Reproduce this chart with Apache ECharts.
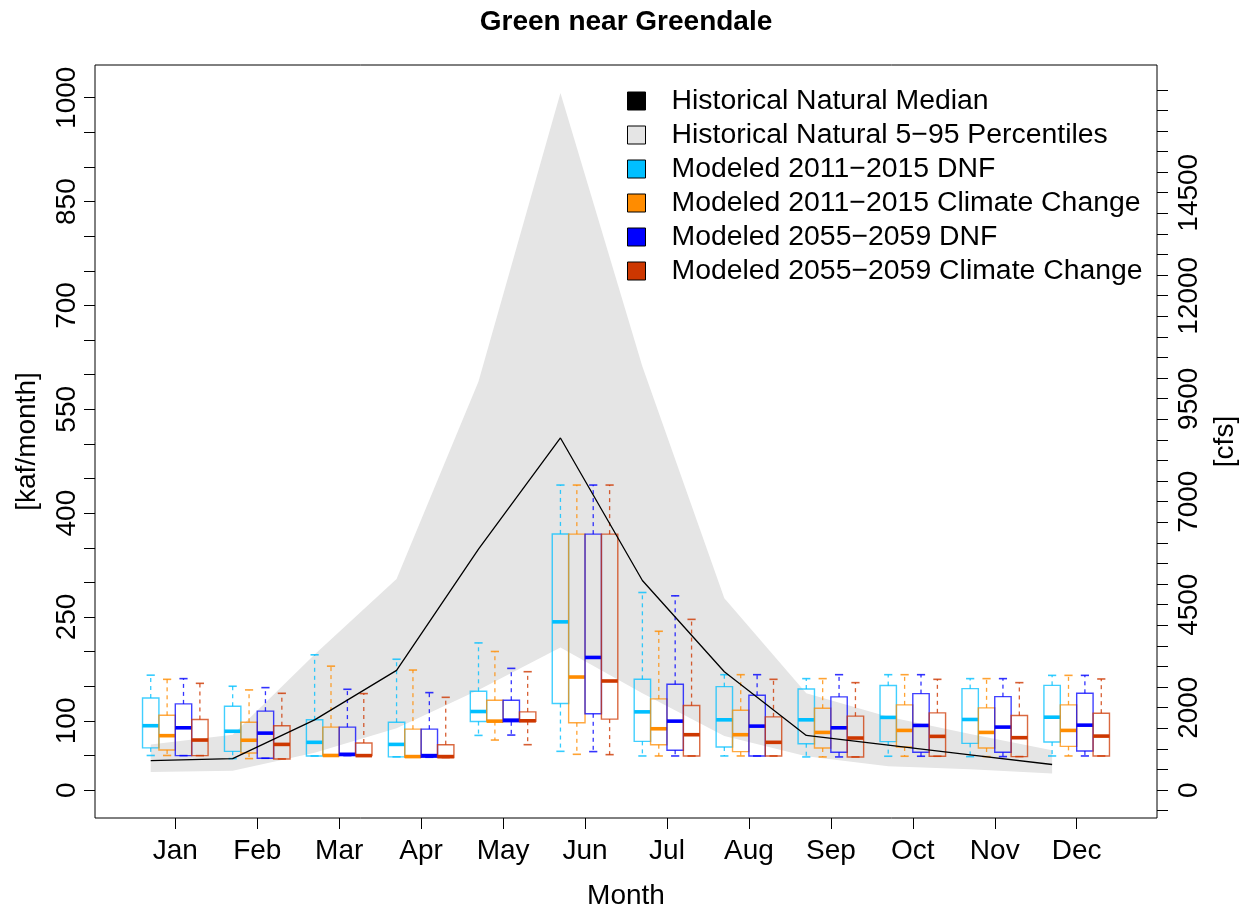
<!DOCTYPE html>
<html>
<head>
<meta charset="utf-8">
<title>Green near Greendale</title>
<script src="https://cdn.jsdelivr.net/npm/echarts@6/dist/echarts.min.js"></script>
<style>
  html, body { margin: 0; padding: 0; background: #fff; }
  #chart { width: 1247px; height: 915px; }
</style>
</head>
<body>
<div id="chart"></div>
<script>
// Monthly flow, Green River near Greendale [kaf/month]
const months = ['Jan', 'Feb', 'Mar', 'Apr', 'May', 'Jun', 'Jul', 'Aug', 'Sep', 'Oct', 'Nov', 'Dec'];

// Historical natural flow statistics
const histMedian = [42.5, 45.5, 101.5, 173, 348, 508.6, 302.7, 171, 79, 65, 51, 37];
const histP05 = [26, 28, 54, 89.5, 144.7, 206, 140, 78, 49, 34.5, 30, 24];
const histP95 = [66, 80, 196, 305, 590, 1007, 612, 277, 140, 106, 81, 57.5];

// Modeled boxes per month: [lower whisker, Q1, median, Q3, upper whisker]
const dnf2011 = [
  [50, 61, 93, 133, 166], [45.5, 56, 85, 121, 150], [49.3, 49.3, 69, 101.5, 195.4],
  [48, 48, 66, 98, 189], [79, 99, 113.5, 142.7, 212.6], [56, 125, 243, 370, 440.6],
  [49.3, 70.4, 113, 160, 285.4], [49.3, 62.3, 101.5, 149.4, 166.7], [47.9, 67, 101.5, 146, 161],
  [48.9, 70, 105, 151, 166.7], [48.4, 67.5, 102, 146.6, 161], [49.3, 69.4, 105.3, 151.3, 165.7]
];
const cc2011 = [
  [50, 58, 78.6, 108, 160], [45.5, 53.6, 72, 98, 144.7], [50, 50, 50, 91, 179],
  [47.5, 47.5, 48.4, 88, 173.4], [72.3, 99, 99.6, 129.8, 200.2], [51.7, 97.2, 163.3, 369.7, 440.6],
  [49.3, 65.6, 88.6, 131.7, 229.4], [49.3, 55.6, 80, 115.4, 166.7], [47.9, 60.8, 83.3, 118.3, 161],
  [48.9, 62.3, 86.2, 123.1, 166.7], [48.4, 60.8, 83.3, 118.8, 161], [49.3, 63.2, 86.2, 123.1, 165.7]
];
const dnf2055 = [
  [49.8, 49.8, 90, 124.5, 161], [46, 46, 82.3, 114, 148], [49.8, 49.8, 51.7, 91, 145.6],
  [47.4, 47.4, 49.8, 88, 140.8], [79.5, 98.6, 101, 129.8, 175.8], [55.6, 110.2, 191.6, 369.7, 440.6],
  [49.3, 57.5, 99.6, 152.8, 280.6], [49.3, 49.3, 92.4, 137, 166.7], [47.9, 54.6, 90, 134.6, 166.7],
  [48.9, 54.6, 93.4, 139.4, 166.7], [48.4, 54.6, 91, 135, 161], [49.3, 56.5, 93.8, 139.8, 165.7]
];
const cc2055 = [
  [49.8, 49.8, 72.3, 102, 154.2], [45, 45, 66, 93, 139.8], [49.8, 49.8, 49.8, 68, 139.4],
  [47, 47, 48.4, 65.6, 134], [65.6, 99.5, 100.1, 113, 171], [51.2, 102.5, 157.6, 369.7, 440.6],
  [49.3, 49.3, 80, 122.1, 246.6], [49.3, 49.3, 69, 105.8, 160], [47.9, 47.9, 75.2, 106.8, 155.2],
  [48.9, 48.9, 77.6, 111.6, 160], [48.4, 48.4, 75.7, 107.8, 155.2], [49.3, 49.3, 78, 111.1, 160.5]
];

// Axis ticks and labels
const kafTicks = Array.from({ length: 21 }, (_, i) => i * 50);
const kafLabels = [0, 100, 250, 400, 550, 700, 850, 1000];
const cfsTicks = Array.from({ length: 36 }, (_, i) => -500 + i * 500);
const cfsLabels = [0, 2000, 4500, 7000, 9500, 12000, 14500];

const CFS_PER_KAF = 16.806;      // 1 kaf/month over a 30-day month
const KAF_MIN = -40.3, KAF_MAX = 1047.3;
const HIST_OFFSET = -0.3;        // historical stats sit at the first box position
const BOX_OFFSETS = [-0.3, -0.1, 0.1, 0.3];
const BOX_W = 0.2;

const FONT = '"Liberation Sans", Arial, Helvetica, sans-serif';
const FS = 28;

const boxSeries = [
  { name: 'Modeled 2011\u22122015 DNF', color: '#00BFFF', data: dnf2011 },
  { name: 'Modeled 2011\u22122015 Climate Change', color: '#FF8C00', data: cc2011 },
  { name: 'Modeled 2055\u22122059 DNF', color: '#0000FF', data: dnf2055 },
  { name: 'Modeled 2055\u22122059 Climate Change', color: '#CD3700', data: cc2055 }
];

function boxRenderer(color) {
  return function (params, api) {
    const x = api.value(0);
    const lo = api.value(1), q1 = api.value(2), med = api.value(3), q3 = api.value(4), hi = api.value(5);
    const w = api.size([BOX_W, 0])[0];
    const cx = api.coord([x, med])[0];
    const yLo = api.coord([x, lo])[1];
    const yQ1 = api.coord([x, q1])[1];
    const yMed = api.coord([x, med])[1];
    const yQ3 = api.coord([x, q3])[1];
    const yHi = api.coord([x, hi])[1];
    const outline = { stroke: color, lineWidth: 1.4, opacity: 0.75, fill: null };
    const dashed = { stroke: color, lineWidth: 1.3, opacity: 0.8, lineDash: [4, 4] };
    const staple = { stroke: color, lineWidth: 1.6, opacity: 0.8 };
    return {
      type: 'group',
      children: [
        { type: 'line', shape: { x1: cx, y1: yQ3, x2: cx, y2: yHi }, style: dashed },
        { type: 'line', shape: { x1: cx, y1: yQ1, x2: cx, y2: yLo }, style: dashed },
        { type: 'line', shape: { x1: cx - w / 4, y1: yHi, x2: cx + w / 4, y2: yHi }, style: staple },
        { type: 'line', shape: { x1: cx - w / 4, y1: yLo, x2: cx + w / 4, y2: yLo }, style: staple },
        { type: 'rect', shape: { x: cx - w / 2, y: yQ3, width: w, height: yQ1 - yQ3 }, style: outline },
        { type: 'line', shape: { x1: cx - w / 2, y1: yMed, x2: cx + w / 2, y2: yMed },
          style: { stroke: color, lineWidth: 3.6 } }
      ]
    };
  };
}

const series = [
  {
    name: 'Historical Natural 5\u221295 Percentiles',
    type: 'custom',
    itemStyle: { color: '#E5E5E5' },
    encode: { x: 0, y: [1, 2] },
    data: months.map((m, i) => [i + 1 + HIST_OFFSET, histP05[i], histP95[i]]),
    renderItem: function (params, api) {
      if (params.dataIndex !== 0) return null;
      const upper = histP95.map((v, i) => api.coord([i + 1 + HIST_OFFSET, v]));
      const lower = histP05.map((v, i) => api.coord([i + 1 + HIST_OFFSET, v])).reverse();
      return { type: 'polygon', shape: { points: upper.concat(lower) }, style: { fill: '#E5E5E5' } };
    },
    silent: true, z: 1
  },
  {
    name: 'Historical Natural Median',
    type: 'line',
    data: histMedian.map((v, i) => [i + 1 + HIST_OFFSET, v]),
    symbol: 'none',
    itemStyle: { color: '#000' },
    lineStyle: { color: '#000', width: 1.3 },
    silent: true, z: 3
  }
].concat(boxSeries.map((s, k) => ({
  name: s.name,
  type: 'custom',
  itemStyle: { color: s.color },
  encode: { x: 0, y: [1, 2, 3, 4, 5] },
  data: s.data.map((b, i) => [i + 1 + BOX_OFFSETS[k]].concat(b)),
  renderItem: boxRenderer(s.color),
  silent: true, z: 2
})));

const legendNames = ['Historical Natural Median', 'Historical Natural 5\u221295 Percentiles'].concat(boxSeries.map(s => s.name));
const legendFill = ['#000000', '#E5E5E5'].concat(boxSeries.map(s => s.color));

const chart = echarts.init(document.getElementById('chart'), null, { renderer: 'canvas' });
chart.setOption({
  animation: false,
  backgroundColor: '#fff',
  textStyle: { fontFamily: FONT },
  title: {
    text: 'Green near Greendale',
    left: 626, top: 8, textAlign: 'center', padding: 0,
    textStyle: { fontFamily: FONT, fontSize: FS, fontWeight: 'bold', color: '#000' }
  },
  legend: {
    orient: 'vertical', left: 627, top: 87, padding: 0,
    itemWidth: 18, itemHeight: 18, itemGap: 6,
    selectedMode: false,
    textStyle: { fontFamily: FONT, fontSize: 28.4, color: '#000', lineHeight: 28, padding: [0, 0, 0, 21] },
    data: legendNames.map((n, i) => ({
      name: n, icon: 'rect',
      itemStyle: { color: legendFill[i], borderColor: '#000', borderWidth: 1 },
      lineStyle: { opacity: 0 }
    }))
  },
  grid: {
    left: 95, top: 65, width: 1062, height: 757,
    show: true, borderColor: '#000', borderWidth: 1, backgroundColor: 'transparent',
    containLabel: false
  },
  xAxis: {
    type: 'value', min: 0.02, max: 12.98,
    name: 'Month', nameLocation: 'middle', nameGap: 64,
    nameTextStyle: { fontFamily: FONT, fontSize: FS, color: '#000' },
    axisLine: { show: false, onZero: false },
    axisTick: { show: true, length: 11, lineStyle: { color: '#000', width: 1 }, customValues: months.map((m, i) => i + 1) },
    axisLabel: {
      show: true, margin: 19, color: '#000', fontFamily: FONT, fontSize: FS,
      customValues: months.map((m, i) => i + 1),
      formatter: v => months[Math.round(v) - 1]
    },
    splitLine: { show: false }
  },
  yAxis: [
    {
      type: 'value', position: 'left', min: KAF_MIN, max: KAF_MAX,
      name: '[kaf/month]', nameLocation: 'middle', nameGap: 54, nameRotate: 90,
      nameTextStyle: { fontFamily: FONT, fontSize: FS, color: '#000' },
      axisLine: { show: false, onZero: false },
      axisTick: { show: true, length: 11, lineStyle: { color: '#000', width: 1 }, customValues: kafTicks },
      axisLabel: {
        show: true, rotate: 90, margin: 14, color: '#000', fontFamily: FONT, fontSize: FS,
        customValues: kafLabels,
        formatter: v => String(v)
      },
      splitLine: { show: false }
    },
    {
      type: 'value', position: 'right',
      min: KAF_MIN * CFS_PER_KAF, max: KAF_MAX * CFS_PER_KAF,
      name: '[cfs]', nameLocation: 'middle', nameGap: 52, nameRotate: 90,
      nameTextStyle: { fontFamily: FONT, fontSize: FS, color: '#000' },
      axisLine: { show: false, onZero: false },
      axisTick: { show: true, length: 11, lineStyle: { color: '#000', width: 1 }, customValues: cfsTicks },
      axisLabel: {
        show: true, rotate: 90, margin: 18, color: '#000', fontFamily: FONT, fontSize: FS,
        customValues: cfsLabels,
        formatter: v => String(v)
      },
      splitLine: { show: false }
    }
  ],
  series: series
});
</script>
</body>
</html>
